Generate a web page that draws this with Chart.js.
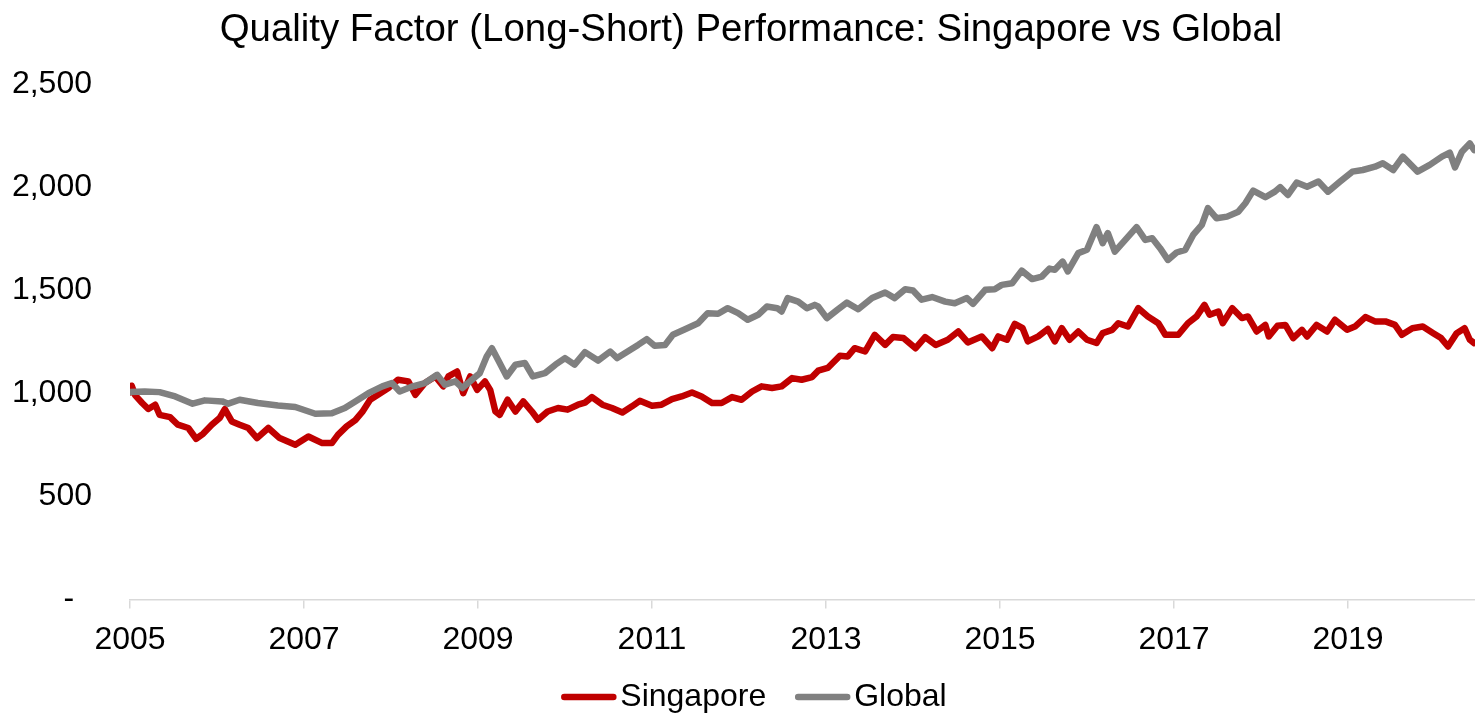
<!DOCTYPE html>
<html lang="en">
<head>
    <meta charset="UTF-8">
    <title>Quality Factor (Long-Short) Performance: Singapore vs Global</title>
    <script src="https://cdn.jsdelivr.net/npm/chart.js"></script>
    <style>
        body {
            margin: 0;
            padding: 0;
            background-color: #fff;
        }
        #chart-box {
            width: 1475px;
            height: 714px;
        }
    </style>
</head>
<body>
    <div id="chart-box">
        <canvas id="quality-chart"></canvas>
    </div>

    <script>
        // Values (index level, start = 1,000)
        const sgYears = [
            2005.00, 2005.02, 2005.06, 2005.14, 2005.21, 2005.29, 2005.34, 2005.46, 2005.55, 2005.67,
            2005.76, 2005.84, 2005.94, 2006.03, 2006.09, 2006.17, 2006.26, 2006.36, 2006.46, 2006.59,
            2006.72, 2006.90, 2007.05, 2007.21, 2007.32, 2007.39, 2007.49, 2007.59, 2007.67, 2007.76,
            2007.85, 2007.97, 2008.08, 2008.20, 2008.28, 2008.39, 2008.51, 2008.60, 2008.66, 2008.76,
            2008.83, 2008.91, 2008.99, 2009.08, 2009.14, 2009.20, 2009.25, 2009.34, 2009.43, 2009.52,
            2009.62, 2009.69, 2009.80, 2009.92, 2010.03, 2010.15, 2010.23, 2010.31, 2010.43, 2010.54,
            2010.66, 2010.77, 2010.86, 2011.00, 2011.11, 2011.23, 2011.34, 2011.46, 2011.57, 2011.69,
            2011.80, 2011.92, 2012.03, 2012.15, 2012.26, 2012.38, 2012.49, 2012.61, 2012.72, 2012.84,
            2012.91, 2013.02, 2013.16, 2013.25, 2013.33, 2013.45, 2013.56, 2013.68, 2013.77, 2013.89,
            2014.03, 2014.14, 2014.26, 2014.40, 2014.52, 2014.63, 2014.79, 2014.91, 2014.98, 2015.08,
            2015.17, 2015.26, 2015.32, 2015.44, 2015.55, 2015.63, 2015.71, 2015.80, 2015.90, 2016.00,
            2016.11, 2016.18, 2016.29, 2016.36, 2016.47, 2016.59, 2016.70, 2016.82, 2016.90, 2017.05,
            2017.16, 2017.26, 2017.35, 2017.41, 2017.51, 2017.56, 2017.67, 2017.78, 2017.85, 2017.95,
            2018.05, 2018.09, 2018.19, 2018.28, 2018.37, 2018.47, 2018.53, 2018.64, 2018.76, 2018.85,
            2018.99, 2019.08, 2019.20, 2019.31, 2019.43, 2019.54, 2019.62, 2019.74, 2019.86, 2019.98,
            2020.07, 2020.15, 2020.25, 2020.34, 2020.40, 2020.45
        ];
        const sgValues = [
            1005, 1037, 990, 953, 924, 945, 896, 885, 848, 832,
            780, 804, 848, 880, 924, 864, 848, 832, 783, 832,
            783, 751, 791, 759, 759, 799, 840, 870, 910, 969,
            993, 1026, 1066, 1058, 993, 1050, 1082, 1034, 1082, 1106,
            1001, 1082, 1017, 1058, 1017, 912, 896, 969, 912, 961,
            912, 872, 912, 929, 921, 945, 955, 982, 945, 929,
            907, 937, 964, 940, 945, 972, 985, 1004, 985, 953,
            953, 982, 969, 1009, 1034, 1026, 1034, 1074, 1066, 1079,
            1110, 1123, 1182, 1179, 1219, 1203, 1284, 1235, 1273, 1268,
            1219, 1273, 1235, 1260, 1300, 1247, 1276, 1219, 1276, 1260,
            1337, 1316, 1252, 1276, 1312, 1252, 1316, 1260, 1300, 1260,
            1244, 1292, 1308, 1340, 1324, 1413, 1373, 1340, 1284, 1284,
            1340, 1373, 1429, 1381, 1397, 1340, 1413, 1365, 1373, 1300,
            1332, 1276, 1328, 1332, 1268, 1308, 1276, 1332, 1300, 1357,
            1308, 1324, 1370, 1349, 1349, 1332, 1284, 1316, 1324, 1292,
            1268, 1227, 1292, 1316, 1260, 1244
        ];

        const glYears = [
            2005.00, 2005.17, 2005.34, 2005.52, 2005.72, 2005.86, 2006.06, 2006.13, 2006.26, 2006.47,
            2006.70, 2006.90, 2007.13, 2007.32, 2007.47, 2007.59, 2007.74, 2007.90, 2008.01, 2008.10,
            2008.25, 2008.39, 2008.53, 2008.62, 2008.74, 2008.82, 2008.93, 2009.02, 2009.10, 2009.16,
            2009.23, 2009.33, 2009.43, 2009.54, 2009.63, 2009.77, 2009.89, 2010.00, 2010.11, 2010.23,
            2010.38, 2010.52, 2010.60, 2010.72, 2010.84, 2010.94, 2011.03, 2011.15, 2011.24, 2011.38,
            2011.53, 2011.64, 2011.76, 2011.87, 2011.99, 2012.10, 2012.22, 2012.32, 2012.44, 2012.49,
            2012.56, 2012.68, 2012.78, 2012.87, 2012.91, 2013.01, 2013.13, 2013.24, 2013.37, 2013.53,
            2013.68, 2013.79, 2013.91, 2014.00, 2014.10, 2014.22, 2014.37, 2014.48, 2014.62, 2014.69,
            2014.83, 2014.94, 2015.02, 2015.14, 2015.25, 2015.37, 2015.48, 2015.57, 2015.63, 2015.72,
            2015.78, 2015.90, 2016.00, 2016.11, 2016.18, 2016.24, 2016.32, 2016.44, 2016.57, 2016.67,
            2016.75, 2016.84, 2016.93, 2017.03, 2017.13, 2017.22, 2017.32, 2017.39, 2017.49, 2017.61,
            2017.74, 2017.82, 2017.91, 2018.05, 2018.16, 2018.22, 2018.31, 2018.41, 2018.53, 2018.66,
            2018.77, 2018.91, 2019.05, 2019.17, 2019.31, 2019.40, 2019.52, 2019.63, 2019.80, 2019.94,
            2020.08, 2020.17, 2020.23, 2020.31, 2020.40, 2020.45
        ];
        const glValues = [
            1006, 1009, 1006, 985, 950, 966, 961, 950, 969, 953,
            941, 934, 901, 904, 929, 961, 1001, 1034, 1050, 1009,
            1034, 1050, 1090, 1042, 1058, 1026, 1066, 1098, 1179, 1219,
            1163, 1082, 1139, 1147, 1082, 1098, 1139, 1171, 1139, 1200,
            1159, 1203, 1171, 1203, 1235, 1263, 1231, 1235, 1284, 1311,
            1340, 1389, 1386, 1413, 1389, 1357, 1381, 1421, 1413, 1397,
            1462, 1445, 1413, 1429, 1421, 1365, 1405, 1440, 1408, 1462,
            1489, 1462, 1505, 1499, 1454, 1467, 1445, 1437, 1462, 1434,
            1502, 1505, 1526, 1534, 1595, 1554, 1566, 1605, 1599, 1639,
            1591, 1680, 1696, 1806, 1728, 1777, 1687, 1744, 1806, 1744,
            1752, 1704, 1647, 1683, 1696, 1768, 1817, 1898, 1849, 1857,
            1881, 1922, 1983, 1951, 1978, 2000, 1962, 2022, 2002, 2027,
            1978, 2027, 2075, 2083, 2099, 2116, 2083, 2148, 2075, 2108,
            2148, 2167, 2096, 2172, 2212, 2180
        ];

        const yearTicks = [2005, 2007, 2009, 2011, 2013, 2015, 2017, 2019];
        const seriesNames = ['Singapore', 'Global'];
        const seriesColors = ['#C00000', '#808080'];

        const FONT = '"Liberation Sans", Arial, sans-serif';

        // Title and legend drawn by hand so the legend line sits tight against its text
        const titleLegendPlugin = {
            id: 'titleLegend',
            afterDraw(chart) {
                const ctx = chart.ctx;
                ctx.save();
                ctx.fillStyle = '#000';
                ctx.font = '38.4px ' + FONT;
                ctx.textAlign = 'center';
                ctx.textBaseline = 'alphabetic';
                ctx.fillText('Quality Factor (Long-Short) Performance: Singapore vs Global', 751, 41);

                ctx.font = '32px ' + FONT;
                ctx.textAlign = 'left';
                const lineLen = 55, gap = 4, itemGap = 29;
                const widths = seriesNames.map(n => lineLen + gap + ctx.measureText(n).width);
                const total = widths.reduce((a, b) => a + b, 0) + itemGap * (widths.length - 1);
                let x = 754 - total / 2;
                seriesNames.forEach((name, i) => {
                    ctx.strokeStyle = seriesColors[i];
                    ctx.lineWidth = 6.5;
                    ctx.lineCap = 'round';
                    ctx.beginPath();
                    ctx.moveTo(x + 3, 697);
                    ctx.lineTo(x + lineLen - 3, 697);
                    ctx.stroke();
                    ctx.fillText(name, x + lineLen + gap, 706);
                    x += widths[i] + itemGap;
                });
                ctx.restore();
            }
        };

        const ctx = document.getElementById('quality-chart').getContext('2d');
        const qualityChart = new Chart(ctx, {
            type: 'line',
            data: {
                datasets: [{
                    label: seriesNames[0],
                    data: sgYears.map((yr, i) => ({ x: yr, y: sgValues[i] })),
                    borderColor: seriesColors[0],
                    backgroundColor: seriesColors[0],
                    borderWidth: 6.5,
                    borderJoinStyle: 'round',
                    borderCapStyle: 'round',
                    pointRadius: 0,
                    tension: 0,
                    order: 1
                }, {
                    label: seriesNames[1],
                    data: glYears.map((yr, i) => ({ x: yr, y: glValues[i] })),
                    borderColor: seriesColors[1],
                    backgroundColor: seriesColors[1],
                    borderWidth: 6.5,
                    borderJoinStyle: 'round',
                    borderCapStyle: 'round',
                    pointRadius: 0,
                    tension: 0,
                    order: 0
                }]
            },
            options: {
                responsive: true,
                maintainAspectRatio: false,
                animation: false,
                layout: {
                    padding: { top: 84, right: 0, bottom: 43, left: 0 }
                },
                plugins: {
                    legend: { display: false },
                    title: { display: false },
                    tooltip: { enabled: false }
                },
                scales: {
                    x: {
                        type: 'linear',
                        min: 2005,
                        max: 2020.46,
                        afterBuildTicks: scale => {
                            scale.ticks = yearTicks.map(v => ({ value: v }));
                        },
                        ticks: {
                            autoSkip: false,
                            maxRotation: 0,
                            padding: 12,
                            color: '#000',
                            font: { family: FONT, size: 32 },
                            callback: v => String(v)
                        },
                        grid: {
                            drawOnChartArea: false,
                            drawTicks: true,
                            tickLength: 9,
                            color: '#d9d9d9',
                            lineWidth: 1.5
                        },
                        border: { display: true, color: '#d9d9d9', width: 1.5 }
                    },
                    y: {
                        min: 0,
                        max: 2500,
                        afterFit: scale => { scale.width = 130; },
                        ticks: {
                            stepSize: 500,
                            padding: 38,
                            color: '#000',
                            font: { family: FONT, size: 32 },
                            callback: v => v === 0 ? '-  ' : v.toLocaleString('en-US')
                        },
                        grid: { display: false, drawTicks: false },
                        border: { display: false }
                    }
                }
            },
            plugins: [titleLegendPlugin]
        });
    </script>
</body>
</html>
